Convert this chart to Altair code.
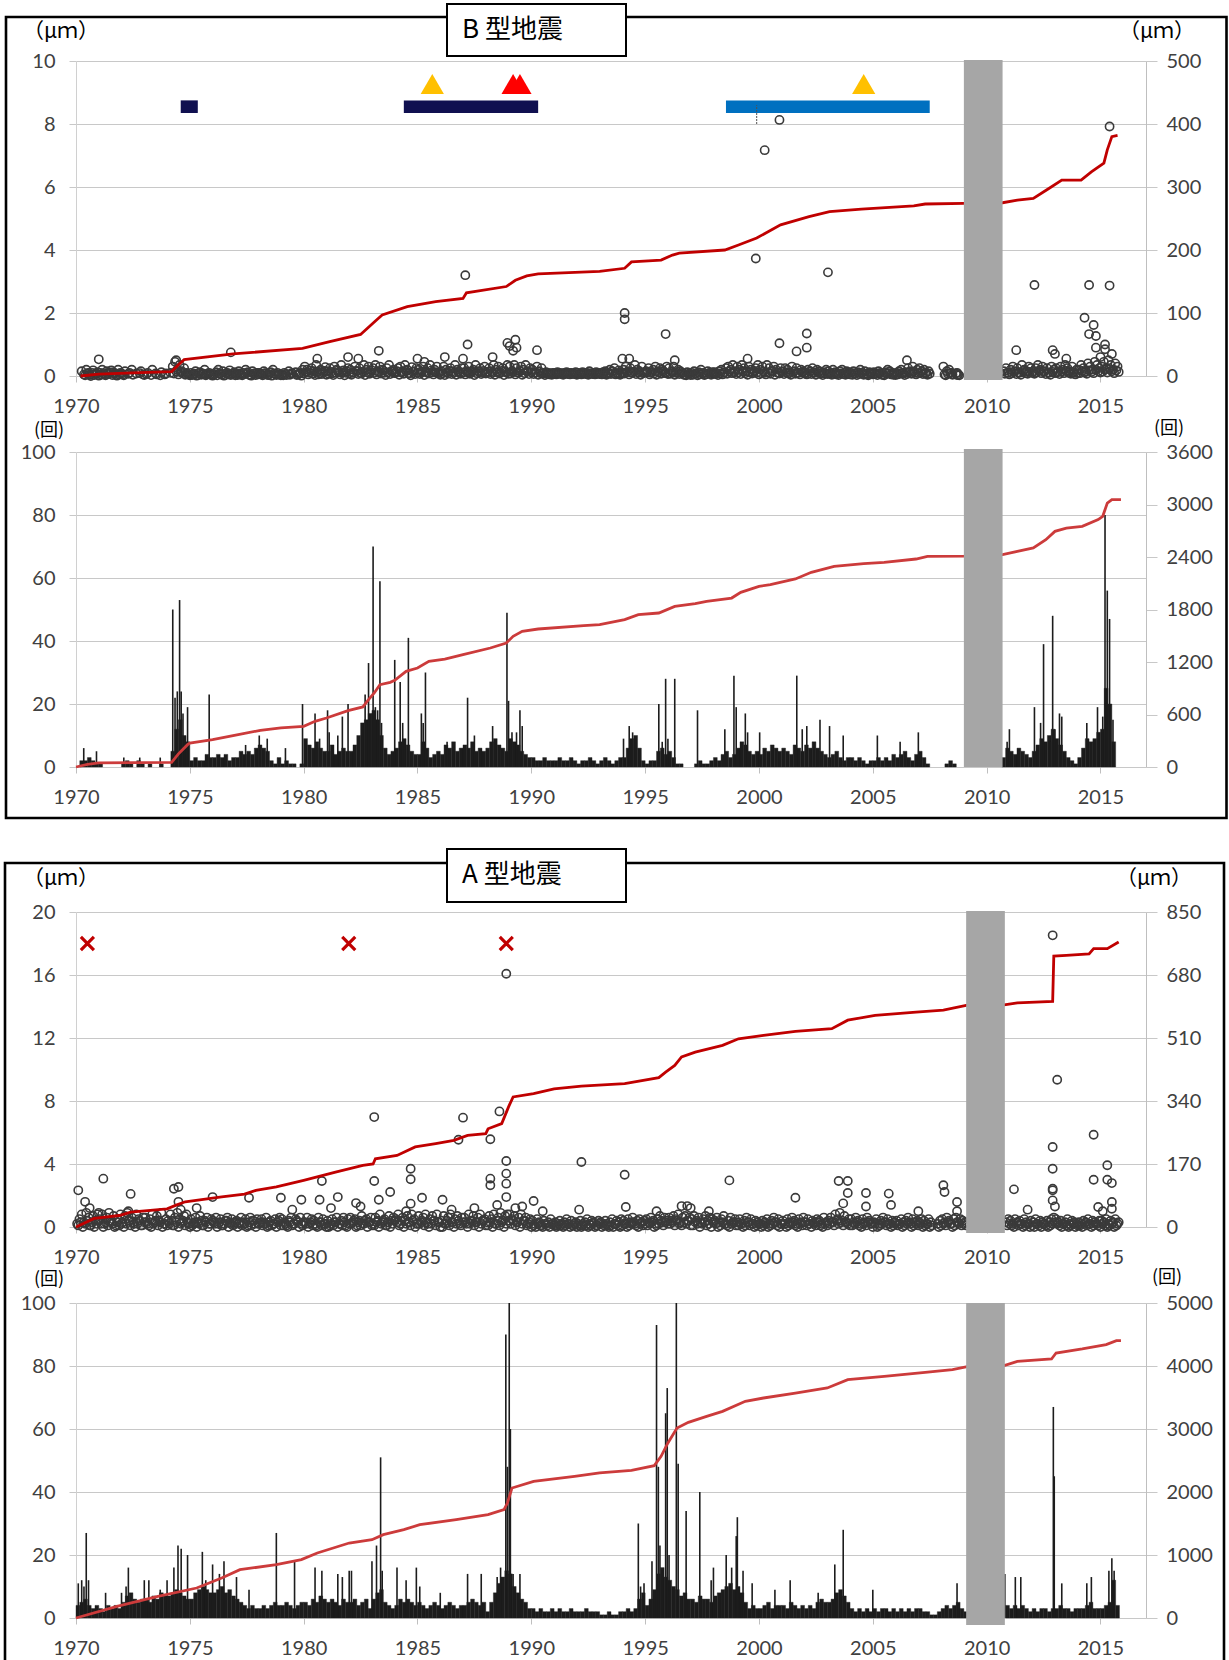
import altair as alt
import pandas as pd

Y0 = 1970

# ================= B-type earthquakes (upper box) =================
# scatter cloud near zero, 10 slots per year, values in 0.01 um ('.' = none)
B_CLOUD = [
    ". . 15 5 20 10 0 18 8 12",      # 1970
    "10 20 5 15 8 18 12 3 20 10",    # 1971
    "5 15 . 10 20 . 8 . 15 5",       # 1972
    ". 10 . 20 . 5 . 12 . 8",        # 1973
    ". 10 30 45 20 35 15 25 10 5",   # 1974
    "10 5 15 3 12 8 20 5 10 3",      # 1975
    "5 12 20 8 15 3 10 18 6 12",     # 1976
    "8 15 5 10 20 12 3 15 8 10",     # 1977
    "10 5 15 8 3 12 20 6 10 5",      # 1978
    "5 10 3 15 8 . 12 5 10 20",      # 1979
    "30 20 10 25 15 35 5 20 12 28",  # 1980
    "15 25 8 30 20 12 35 18 10 25",  # 1981
    "20 10 30 15 25 8 35 20 30 12",  # 1982
    "25 35 15 30 20 10 25 35 15 20", # 1983
    "10 25 30 15 35 20 8 28 15 25",  # 1984
    "20 10 30 15 25 35 12 20 30 10", # 1985
    "15 30 20 8 25 15 35 20 10 25",  # 1986
    "25 15 30 10 20 35 15 25 10 30", # 1987
    "10 25 15 35 20 30 10 25 15 35", # 1988
    "30 15 35 25 10 30 20 35 15 25", # 1989
    "20 10 30 15 25 10 12 10 8 10",  # 1990
    "10 12 10 8 10 12 10 10 8 12",   # 1991
    "10 8 12 10 10 15 8 10 12 10",   # 1992
    "10 12 15 10 20 15 25 10 18 12", # 1993
    "20 30 15 25 10 35 20 15 30 10", # 1994
    "15 25 10 20 30 15 25 20 10 30", # 1995
    "25 15 30 10 20 15 10 5 12 8",   # 1996
    "10 15 8 12 20 10 5 15 10 12",   # 1997
    "12 8 15 20 10 25 30 20 35 15",  # 1998
    "30 20 35 25 15 30 20 10 25 35", # 1999
    "20 30 10 35 25 15 30 20 10 25", # 2000
    "15 25 20 10 30 15 25 10 20 15", # 2001
    "10 20 15 25 10 20 15 8 12 20",  # 2002
    "15 10 20 12 8 15 20 10 15 12",  # 2003
    "10 15 8 12 20 10 15 5 12 10",   # 2004
    "12 8 15 10 5 12 20 15 10 8",    # 2005
    "10 15 20 8 12 25 15 30 10 20",  # 2006
    "25 15 20 10 15 . . . . .",      # 2007
    ". 5 15 20 10 . 8 5 . .",        # 2008
    ". . . . . . . . . .",           # 2009
    ". . . . . . . 15 25 10",        # 2010
    "20 30 15 25 10 35 20 15 30 25", # 2011
    "15 25 35 20 30 15 25 10 30 20", # 2012
    "25 15 30 20 35 25 15 30 10 20", # 2013
    "20 35 25 15 40 30 20 45 35 25", # 2014
    "30 45 25 50 35 20 40 30 . .",   # 2015
]
# second, lower layer of the same cloud (0.01 um)
B_CLOUD2 = [
    ". . . 2 8 4 10 3 6 1",          # 1970
    "4 9 2 6 11 3 7 1 5 8",          # 1971
    "2 . 7 . 4 . . 9 . 3",           # 1972
    "6 . 3 . 8 . 2 . 5 .",           # 1973
    ". . 8 15 5 12 9 4 7 2",         # 1974
    "3 7 1 9 4 6 2 8 5 1",           # 1975
    "6 2 8 4 1 9 5 3 7 2",           # 1976
    "3 8 2 6 9 4 1 7 3 5",           # 1977
    "7 2 9 4 6 1 8 3 5 2",           # 1978
    "2 6 . 4 9 . 3 7 1 8",           # 1979
    "12 5 18 8 3 14 9 6 16 4",       # 1980
    "7 13 3 10 17 5 12 2 15 8",      # 1981
    "4 11 16 6 9 14 3 12 7 18",      # 1982
    "10 5 13 8 17 3 11 6 14 9",      # 1983
    "15 4 11 7 16 9 2 13 6 10",      # 1984
    "6 14 3 11 8 17 5 12 9 4",       # 1985
    "9 3 12 16 6 10 4 14 7 11",      # 1986
    "5 12 7 15 3 9 13 6 16 8",       # 1987
    "14 6 10 4 12 8 16 3 11 7",      # 1988
    "8 13 5 11 16 4 9 14 6 12",      # 1989
    "6 11 4 9 7 3 6 5 4 6",          # 1990
    "5 7 6 4 8 6 5 7 6 4",           # 1991
    "6 5 7 6 4 8 6 5 7 6",           # 1992
    "5 7 4 8 6 9 5 7 4 8",           # 1993
    "8 12 5 10 14 6 11 4 9 13",      # 1994
    "11 5 13 8 4 12 7 15 9 6",       # 1995
    "7 10 4 13 6 9 4 2 6 3",         # 1996
    "4 7 2 5 8 3 6 9 4 7",           # 1997
    "6 3 8 5 12 7 14 9 11 6",        # 1998
    "12 6 15 9 4 13 8 16 10 5",      # 1999
    "9 14 5 12 7 16 4 11 8 13",      # 2000
    "6 11 8 4 13 7 10 5 12 8",       # 2001
    "5 9 6 12 4 10 7 3 8 6",         # 2002
    "7 4 9 5 3 8 6 4 7 5",           # 2003
    "4 8 3 6 9 4 7 2 6 5",           # 2004
    "6 3 8 4 2 7 9 5 4 3",           # 2005
    "5 8 10 3 6 12 7 14 5 9",        # 2006
    "10 6 8 4 7 . . . . .",          # 2007
    ". 2 7 9 4 . 3 2 . .",           # 2008
    ". . . . . . . . . .",           # 2009
    ". . . . . . . 7 10 5",          # 2010
    "9 14 6 11 4 16 9 7 13 10",      # 2011
    "7 12 16 9 14 6 11 4 13 9",      # 2012
    "11 6 14 9 16 10 7 13 5 9",      # 2013
    "9 16 11 7 18 13 9 20 15 11",    # 2014
    "14 20 11 22 15 9 18 13 . .",    # 2015
]
B_OUT_YR = [1971.0, 1976.8, 1980.6, 1981.95, 1983.3, 1985.0, 1985.3, 1986.2, 1987.1, 1987.2,
            1987.0, 1988.3, 1988.95, 1989.05, 1989.3, 1989.35, 1989.2, 1990.25, 1994.1, 1994.1,
            1995.9, 1999.86, 2000.25, 2000.9, 2003.03, 2000.9, 2001.65, 2002.1, 2002.1, 2012.1,
            2014.5, 2015.4, 2015.4, 2014.3, 2014.7, 2014.5, 2014.8, 2015.2, 2015.2, 2011.3,
            2012.9, 2014.8, 2008.1, 2008.7, 1994.0, 1994.3, 1996.3, 1999.5, 2006.5, 2013.0,
            2013.5, 2015.0, 2015.5, 1982.4, 1974.4]
B_OUT_V = [0.53, 0.75, 0.55, 0.6, 0.8, 0.55, 0.45, 0.6, 3.2, 1.0,
           0.55, 0.6, 1.05, 0.95, 1.15, 0.9, 0.8, 0.82, 2.0, 1.8,
           1.33, 3.73, 7.17, 8.13, 3.29, 1.04, 0.78, 1.35, 0.9, 2.89,
           2.89, 2.87, 7.92, 1.85, 1.62, 1.33, 1.27, 1.0, 0.85, 0.82,
           0.82, 0.9, 0.3, 0.1, 0.55, 0.55, 0.5, 0.55, 0.5, 0.7,
           0.55, 0.6, 0.7, 0.55, 0.5]
B_LINE_YR = [1970.2, 1971.0, 1972.5, 1974.2, 1974.5, 1974.75, 1976.9, 1979.95, 1981.1, 1982.5,
             1983.2, 1983.45, 1984.55, 1985.8, 1987.0, 1987.15, 1988.9, 1989.3, 1989.8, 1990.3,
             1993.0, 1994.1, 1994.4, 1995.7, 1996.2, 1996.5, 1998.5, 1999.1, 1999.9, 2000.4,
             2000.95, 2002.2, 2003.1, 2004.5, 2006.8, 2007.3, 2009.0, 2010.7, 2011.35, 2012.05,
             2012.75, 2013.3, 2014.15, 2014.6, 2015.15, 2015.3, 2015.5, 2015.75]
B_LINE_V = [0, 3, 5, 7, 18, 26, 35, 44, 54, 66,
            89, 97, 110, 118, 123, 132, 142, 152, 159, 162,
            166, 171, 181, 184, 192, 195, 200, 208, 219, 229,
            240, 253, 261, 265, 270, 273, 274, 275, 279, 282,
            298, 311, 311, 324, 338, 359, 380, 382]

# B counts: 6 bins per year (count per bin)
B_BINS = [
    "0 2 2 3 2 1", "1 0 0 0 0 0", "1 2 1 0 2 1", "0 1 0 0 1 0", "0 5 12 15 10 8",   # 1970-74
    "2 3 2 2 4 3", "3 4 3 4 2 3", "3 5 4 5 4 6", "7 6 5 2 1 3", "1 2 1 1 0 1",       # 1975-79
    "9 7 6 8 6 5", "5 7 4 5 6 5", "5 7 10 14 15 17", "18 15 10 6 4 5", "6 8 9 7 5 4",  # 1980-84
    "4 8 6 3 4 5", "4 7 6 8 5 6", "7 6 8 5 6 5", "6 8 9 7 6 5", "9 8 7 5 4 3",       # 1985-89
    "3 2 2 3 2 2", "2 3 2 2 3 2", "1 2 2 3 2 1", "2 3 2 1 2 3", "3 6 9 10 6 2",      # 1990-94
    "1 2 2 5 6 4", "5 3 1 1 0 0", "0 1 2 1 1 2", "3 2 4 5 3 4", "6 8 7 5 4 5",       # 1995-99
    "4 6 5 7 6 5", "6 5 4 7 6 5", "7 6 8 6 5 4", "3 4 5 3 2 3", "3 2 3 2 1 2",       # 2000-04
    "2 3 2 3 2 4", "3 4 5 3 2 4", "5 3 1 0 0 0", "0 1 2 1 0 0", "0 0 0 0 0 0",       # 2005-09
    "0 0 0 0 3 6", "5 4 6 5 4 3", "5 7 9 8 10 12", "9 7 5 3 2 1", "3 6 9 8 9 11",    # 2010-14
    "12 25 20 8 0 0",                                                                # 2015
]
B_SPIKE_YR = [1970.34, 1970.9, 1972.1, 1972.8, 1973.7, 1974.25, 1974.35, 1974.45, 1974.55, 1974.62,
              1974.7, 1974.9, 1975.85, 1977.45, 1978.05, 1978.4, 1979.2, 1979.95, 1980.5, 1980.7,
              1981.05, 1981.12, 1981.5, 1981.7, 1981.95, 1982.7, 1982.85, 1983.05, 1983.15, 1983.25,
              1983.35, 1983.42, 1984.0, 1984.24, 1984.35, 1984.6, 1985.17, 1985.25, 1985.35, 1986.3,
              1987.2, 1987.5, 1988.3, 1988.93, 1989.0, 1989.15, 1989.35, 1989.5, 1989.6, 1994.05,
              1994.3, 1994.45, 1995.6, 1995.75, 1995.9, 1996.0, 1996.3, 1997.3, 1998.5, 1998.9,
              1999.0, 1999.4, 1999.5, 2000.03, 2001.66, 2001.9, 2002.1, 2002.68, 2003.1, 2003.7,
              2005.2, 2006.2, 2007.0, 2010.9, 2011.0, 2012.1, 2012.37, 2012.5, 2012.8, 2012.9,
              2013.0, 2013.2, 2013.3, 2014.4, 2014.87, 2015.1, 2015.2, 2015.3, 2015.4, 2015.55]
B_SPIKE_V = [6, 5, 3, 3, 3, 50, 22, 24, 53, 24,
             17, 19, 23, 7, 10, 9, 6, 20, 17, 9,
             18, 11, 10, 16, 20, 23, 33, 70, 19, 18,
             59, 14, 34, 27, 14, 41, 17, 14, 30, 8,
             22, 10, 13, 49, 21, 11, 11, 18, 13, 9,
             13, 11, 20, 8, 28, 9, 28, 18, 12, 29,
             19, 17, 11, 11, 29, 12, 13, 15, 13, 10,
             10, 8, 11, 8, 12, 19, 14, 39, 8, 48,
             12, 17, 16, 14, 19, 16, 80, 56, 47, 15]
B2_LINE_YR = [1970.0, 1970.5, 1971.0, 1974.2, 1974.5, 1974.9, 1975.0, 1976.0, 1976.9, 1978.1,
              1979.0, 1980.0, 1980.5, 1981.0, 1981.95, 1982.6, 1982.85, 1983.1, 1983.35, 1983.8,
              1984.0, 1984.5, 1985.0, 1985.5, 1986.2, 1987.0, 1988.2, 1988.9, 1989.2, 1989.6,
              1990.3, 1992.3, 1993.0, 1994.1, 1994.7, 1995.6, 1996.3, 1997.2, 1997.7, 1998.8,
              1999.2, 2000.0, 2000.5, 2001.6, 2002.3, 2003.3, 2004.6, 2005.5, 2006.9, 2007.4,
              2009.0, 2010.7, 2011.35, 2012.05, 2012.6, 2013.0, 2013.5, 2014.2, 2014.9, 2015.1,
              2015.3, 2015.5, 2015.9]
B2_LINE_V = [0, 30, 46, 53, 150, 255, 274, 312, 358, 419,
             446, 465, 522, 560, 644, 686, 770, 846, 941, 968,
             990, 1093, 1131, 1208, 1234, 1284, 1360, 1417, 1493, 1550,
             1577, 1615, 1627, 1684, 1741, 1760, 1836, 1867, 1893, 1931,
             1996, 2065, 2084, 2149, 2225, 2293, 2324, 2339, 2377, 2408,
             2410, 2427, 2465, 2503, 2598, 2693, 2731, 2750, 2827, 2865,
             3017, 3055, 3055]

# activity bars / eruption triangles in B panel
B_BAR_X0 = [1974.6, 1984.4, 1998.55]
B_BAR_X1 = [1975.35, 1990.3, 2007.5]
B_BAR_COL = ["#101050", "#101050", "#0070C0"]
B_TRI_YR = [1985.65, 2004.6, 1989.2, 1989.5]
B_TRI_COL = ["#FFC000", "#FFC000", "#FF0000", "#FF0000"]

# ================= A-type earthquakes (lower box) =================
# scatter cloud, values in 0.1 um
A_CLOUD = [
    "2 5 8 3 9 6 1 7 4 8", "5 8 2 6 9 3 7 1 5 8", "3 7 9 4 6 2 8 5 1 6", "6 2 5 8 3 7 4 9 2 5",
    "4 8 1 6 9 5 3 7 8 2", "5 2 6 3 7 1 4 6 2 5", "3 6 2 5 1 4 6 3 5 2", "4 2 6 3 5 1 6 4 2 5",
    "2 5 3 6 1 4 2 5 3 6", "5 3 1 4 6 2 5 3 6 1", "3 6 2 5 4 1 6 3 5 2", "4 1 5 3 6 2 4 6 1 5",
    "6 3 5 1 4 7 2 5 3 6", "2 6 4 8 3 5 1 7 4 6", "5 8 2 6 4 7 3 8 5 2", "7 3 6 8 2 5 7 4 8 3",
    "4 7 2 6 8 3 5 7 2 6", "6 2 8 4 7 3 6 8 4 5", "3 7 5 8 2 6 9 4 7 8", "8 5 7 3 6 8 4 6 2 5",
    "4 2 5 3 1 4 2 3 5 2", "3 1 4 2 3 5 2 4 1 3", "2 4 1 3 5 2 4 3 1 4", "3 2 4 1 3 5 2 4 3 5",
    "4 2 5 3 6 2 4 5 3 4", "5 3 6 4 2 5 7 3 6 4", "6 4 7 5 8 3 6 7 4 6", "5 7 4 6 3 5 7 4 6 5",
    "4 6 3 5 7 2 4 6 3 5", "3 5 2 4 6 3 5 2 4 3", "2 4 3 5 2 4 6 3 5 2", "4 2 5 3 6 4 2 5 3 6",
    "3 5 2 4 3 5 4 2 6 3", "4 6 3 8 5 9 4 7 3 5", "5 3 6 4 2 5 3 6 4 2", "3 5 2 4 6 3 5 2 4 3",
    "4 2 5 3 4 6 2 5 3 4", "3 5 4 2 5 3 . . 2 4", "5 3 6 4 2 5 6 3 5 4", "3 . . . . . . . . .",
    ". . . . . . . . 3 5", "4 2 5 3 4 2 5 3 2 4", "3 5 2 4 3 2 4 3 5 6", "5 3 4 2 3 5 2 4 3 2",
    "3 2 4 3 5 2 4 3 2 4", "4 3 5 2 4 3 5 2 . .",
]
# second, lower layer of the A cloud (0.1 um)
A_CLOUD2 = [
    "1 3 0 2 4 1 3 0 2 4", "2 0 3 1 4 2 0 3 1 2", "0 2 4 1 3 0 2 4 1 3", "3 1 0 2 4 1 3 0 2 1",
    "2 4 1 3 0 2 4 1 3 0", "1 3 0 2 4 1 3 0 2 4", "2 0 3 1 2 4 0 2 1 3", "0 3 1 2 0 3 1 4 0 2",
    "3 1 2 0 3 1 2 0 4 1", "1 2 0 3 1 2 4 0 2 3", "2 0 3 1 2 0 3 1 2 0", "0 2 1 3 0 2 1 3 0 2",
    "2 4 0 3 1 2 4 0 3 1", "1 3 0 2 4 1 3 0 2 4", "3 1 4 0 2 3 1 4 0 2", "2 4 1 3 0 2 4 1 3 0",
    "0 2 4 1 3 0 2 4 1 3", "3 0 2 4 1 3 0 2 4 1", "1 3 0 2 4 1 3 0 2 4", "2 4 1 3 0 2 4 1 3 0",
    "1 0 2 1 0 2 1 0 2 1", "0 2 1 0 1 2 0 1 2 0", "1 0 2 1 0 1 2 0 1 2", "0 1 2 0 1 0 2 1 0 1",
    "2 0 1 2 3 1 0 2 1 2", "1 2 3 0 1 2 4 1 3 2", "2 3 1 4 2 1 3 2 4 1", "1 3 2 0 2 3 1 2 0 3",
    "2 0 1 3 2 1 0 2 3 1", "1 2 0 1 3 1 2 0 1 2", "0 1 2 0 1 2 3 1 0 2", "2 0 1 2 3 1 0 2 1 3",
    "1 2 0 2 1 3 1 0 2 1", "2 3 1 4 2 3 1 3 2 1", "1 2 3 1 0 2 1 3 2 0", "2 0 1 2 3 1 2 0 1 2",
    "1 2 0 1 2 3 0 1 2 1", "2 0 1 2 0 1 . . 0 1", "2 1 3 2 0 1 3 2 1 2", "1 . . . . . . . . .",
    ". . . . . . . . 1 2", "1 0 2 1 2 0 1 2 0 1", "0 2 1 0 2 1 0 1 2 3", "2 1 0 2 1 0 1 2 0 1",
    "1 0 2 1 2 0 1 2 1 0", "2 1 0 1 2 0 1 3 . .",
]
A_OUT_YR = [1970.1, 1970.4, 1971.2, 1972.4, 1974.3, 1974.5, 1974.5, 1976.0, 1977.6, 1979.0,
            1979.9, 1980.7, 1980.8, 1981.5, 1982.3, 1983.3, 1983.1, 1983.1, 1983.8, 1984.7,
            1984.7, 1984.7, 1985.2, 1986.1, 1986.8, 1987.0, 1988.2, 1988.2, 1988.2, 1988.6,
            1988.9, 1988.9, 1988.9, 1988.9, 1988.9, 1990.1, 1992.2, 1992.1, 1994.1, 1994.15,
            1996.6, 1996.85, 1998.7, 2001.6, 2003.5, 2003.9, 2003.9, 2004.7, 2005.7, 2008.1,
            2008.15, 2008.7, 2011.2, 2011.8, 2012.9, 2012.9, 2012.9, 2012.9, 2012.9, 2012.9,
            2013.1, 2014.7, 2014.7, 2014.9, 2015.3, 2015.3, 2015.5, 2015.5, 2015.5, 1970.6,
            1971.0, 1972.3, 1974.6, 1975.3, 1979.5, 1981.2, 1982.5, 1984.5, 1986.5, 1987.5,
            1988.5, 1989.3, 1989.6, 1990.5, 1995.5, 1997.0, 1997.8, 2003.7, 2004.7, 2005.8,
            2007.0, 2008.7, 2013.0, 2015.1]
A_OUT_V = [2.33, 1.6, 3.07, 2.1, 2.43, 2.54, 1.6, 1.9, 1.86, 1.86,
           1.73, 1.73, 2.92, 1.9, 1.52, 1.73, 6.98, 2.92, 2.22, 3.7,
           3.03, 1.48, 1.86, 1.73, 5.54, 6.94, 5.57, 3.07, 2.65, 7.34,
           16.08, 4.19, 3.39, 2.75, 1.9, 1.65, 4.13, 1.1, 3.32, 1.27,
           1.33, 1.33, 2.96, 1.86, 2.92, 2.92, 2.16, 2.16, 2.12, 2.65,
           2.22, 1.59, 2.39, 1.1, 18.52, 5.08, 3.7, 2.43, 2.33, 1.69,
           9.35, 5.86, 3.0, 1.27, 3.92, 3.0, 2.79, 1.59, 1.16, 1.2,
           0.9, 1.0, 1.1, 1.2, 1.1, 1.2, 1.3, 1.0, 1.1, 1.2,
           1.4, 1.2, 1.3, 1.0, 1.0, 1.2, 1.0, 1.5, 1.3, 1.4,
           1.0, 1.0, 1.3, 1.0]
A_LINE_YR = [1970.0, 1970.8, 1971.9, 1972.4, 1974.0, 1974.4, 1974.8, 1976.4, 1977.4, 1977.9,
             1978.8, 1980.0, 1981.4, 1982.6, 1983.05, 1983.15, 1984.1, 1984.9, 1985.8, 1986.6,
             1987.2, 1988.0, 1988.1, 1988.7, 1989.0, 1989.2, 1990.1, 1991.0, 1992.2, 1994.1,
             1995.6, 1995.9, 1996.3, 1996.6, 1997.2, 1998.4, 1999.1, 2000.2, 2001.6, 2003.2,
             2003.9, 2005.1, 2006.9, 2008.1, 2009.1, 2010.7, 2011.35, 2012.9, 2012.95, 2013.5,
             2014.5, 2014.7, 2015.3, 2015.8]
A_LINE_V = [0, 23, 31, 40, 49, 59, 68, 81, 89, 99,
            108, 126, 148, 166, 170, 184, 193, 216, 225, 234,
            247, 252, 265, 279, 324, 351, 360, 373, 380, 387,
            403, 418, 436, 459, 472, 490, 508, 517, 528, 535,
            558, 571, 580, 585, 598, 599, 605, 609, 731, 733,
            737, 751, 751, 769]
A_BINS = [
    "4 5 6 4 3 4", "3 2 4 3 4 3", "5 7 8 6 5 6", "6 5 7 6 8 7", "7 8 9 8 7 6",          # 1970-74
    "6 8 9 10 9 8", "8 9 10 8 9 7", "6 5 4 3 4 3", "3 4 3 4 5 4", "4 5 4 3 4 5",       # 1975-79
    "5 4 6 5 7 6", "5 6 5 4 6 5", "5 6 4 5 6 3", "6 8 9 5 4 3", "4 6 5 6 5 4",         # 1980-84
    "5 4 3 4 5 4", "3 4 5 4 3 4", "4 5 6 5 4 5", "2 5 8 11 13 15", "14 10 8 6 5 3",    # 1985-89
    "3 2 3 2 2 3", "2 3 2 2 3 2", "2 2 3 2 2 2", "1 1 2 1 1 2", "2 3 2 3 6 8",         # 1990-94
    "4 6 9 14 16 13", "12 10 9 7 8 6", "6 5 7 6 6 5", "7 8 9 10 11 9", "10 8 5 3 4 3", # 1995-99
    "3 4 5 3 4 4", "4 3 5 4 3 4", "3 4 3 5 6 5", "5 6 8 9 7 5", "3 2 3 2 3 2",         # 2000-04
    "3 2 3 3 2 3", "2 3 2 3 2 3", "3 2 2 1 1 2", "3 4 3 4 5 3", "2 0 0 0 0 0",         # 2005-09
    "0 0 0 0 0 4", "3 4 3 4 3 2", "3 2 3 3 2 3", "3 4 3 3 2 3", "3 3 4 5 3 3",         # 2010-14
    "3 4 5 12 4 0",                                                                  # 2015
]
A_SPIKE_YR = [1970.1, 1970.25, 1970.35, 1970.45, 1970.55, 1971.3, 1972.0, 1972.2, 1972.3, 1973.0,
              1973.2, 1973.7, 1974.0, 1974.3, 1974.48, 1974.62, 1974.9, 1975.55, 1975.7, 1976.0,
              1976.3, 1976.5, 1977.05, 1977.6, 1978.8, 1979.6, 1980.5, 1980.8, 1981.5, 1981.7,
              1982.0, 1982.1, 1983.0, 1983.2, 1983.38, 1983.45, 1984.1, 1984.5, 1984.95, 1985.1,
              1986.0, 1987.2, 1987.8, 1988.5, 1988.65, 1988.88, 1988.95, 1989.03, 1989.08, 1989.2,
              1989.5, 1994.7, 1994.8, 1994.95, 1995.3, 1995.5, 1995.58, 1995.65, 1995.9, 1995.97,
              1996.05, 1996.37, 1996.45, 1996.8, 1997.4, 1997.9, 1998.0, 1998.56, 1998.8, 1999.0,
              1999.05, 1999.3, 1999.7, 2000.7, 2001.37, 2002.6, 2003.33, 2003.7, 2005.0, 2008.7,
              2010.8, 2011.26, 2011.5, 2012.93, 2012.97, 2013.3, 2014.4, 2014.6, 2015.37, 2015.5,
              2015.6]
A_SPIKE_V = [11, 12, 10, 27, 12, 8, 8, 10, 16, 12,
             12, 9, 12, 16, 23, 22, 20, 21, 12, 17,
             14, 18, 13, 9, 27, 18, 16, 15, 14, 13,
             15, 15, 18, 23, 51, 15, 16, 12, 16, 10,
             8, 14, 14, 13, 16, 90, 48, 100, 60, 14,
             14, 30, 10, 11, 18, 93, 48, 23, 65, 73,
             20, 100, 49, 34, 40, 12, 16, 20, 16, 26,
             32, 15, 11, 9, 12, 8, 17, 28, 9, 11,
             14, 13, 13, 67, 45, 11, 11, 13, 15, 19,
             15]
A2_LINE_YR = [1970.0, 1971.8, 1973.6, 1975.3, 1976.4, 1977.2, 1978.8, 1979.9, 1980.6, 1982.0,
              1983.0, 1983.5, 1984.4, 1985.1, 1986.7, 1988.1, 1988.8, 1988.95, 1989.15, 1990.1,
              1991.9, 1993.0, 1994.4, 1995.4, 1995.7, 1996.0, 1996.4, 1996.9, 1997.7, 1998.4,
              1999.4, 2000.2, 2001.6, 2003.0, 2003.9, 2005.5, 2007.3, 2008.5, 2009.2, 2010.7,
              2011.35, 2012.85, 2013.05, 2014.2, 2015.25, 2015.7, 2015.9]
A2_LINE_V = [0, 185, 344, 476, 635, 767, 847, 926, 1032, 1190,
             1243, 1323, 1402, 1481, 1561, 1640, 1720, 1825, 2063, 2169,
             2249, 2302, 2344, 2418, 2566, 2778, 3016, 3106, 3201, 3280,
             3439, 3492, 3571, 3651, 3783, 3836, 3899, 3942, 3995, 3998,
             4074, 4111, 4206, 4270, 4339, 4402, 4402]
A_X_YR = [1970.5, 1981.98, 1988.9]

# gap in observation (grey band)
B_GAP = [2009.0, 2010.7]
A_GAP = [2009.1, 2010.8]

X_TICKS = [1970, 1975, 1980, 1985, 1990, 1995, 2000, 2005, 2010, 2015]

# ---------------- helpers ----------------
W, H = 1070, 1599
XDOM = [1970, 2017]
R_BS = [315, 0]
R_BB = [706, 391]
R_AS = [1166, 851]
R_AB = [1557, 1242]
FONT = "Lato"
CJK = "Noto Sans CJK JP"


def cloud_df(rows, div, shift=0.0):
    recs = []
    for i, row in enumerate(rows):
        toks = row.split()
        n = len(toks)
        for j, t in enumerate(toks):
            if t != ".":
                recs.append({"yr": Y0 + i + (j + 0.5 + shift) / n, "v": int(t) / div})
    return pd.DataFrame(recs)


def bins_df(rows):
    recs = []
    for i, row in enumerate(rows):
        toks = row.split()
        n = len(toks)
        for j, t in enumerate(toks):
            v = int(t)
            if v > 0:
                recs.append({"x0": Y0 + i + j / n, "x1": Y0 + i + (j + 1) / n, "v": v, "b": 0})
    return pd.DataFrame(recs)


def xs(field, axis=None):
    return alt.X(field, type="quantitative",
                 scale=alt.Scale(domain=XDOM, nice=False, zero=False), axis=axis)


def x2(field):
    return alt.X2(field)


def ys(field, dom, rng, axis=None):
    return alt.Y(field, type="quantitative",
                 scale=alt.Scale(domain=dom, range=rng, nice=False, zero=False), axis=axis)


def xaxis(offset):
    return alt.Axis(orient="bottom", offset=offset, values=X_TICKS, format="d", grid=False,
                    domain=False, tickSize=6, tickColor="#bfbfbf", labelPadding=14,
                    labelFlush=False, labelFont=FONT, labelFontSize=20, labelColor="#404040",
                    title=None)


def laxis(vals):
    return alt.Axis(orient="left", values=vals, format="d", grid=True, gridColor="#c8c8c8",
                    gridWidth=1.2, domain=True, domainColor="#d0d0d0", tickSize=7,
                    tickColor="#c8c8c8", labelPadding=14, labelFont=FONT, labelFontSize=20,
                    labelColor="#404040", title=None)


def raxis(vals):
    return alt.Axis(orient="right", values=vals, format="d", grid=False, domain=True,
                    domainColor="#bfbfbf", tickSize=11, tickColor="#c8c8c8", labelPadding=9,
                    labelFont=FONT, labelFontSize=20, labelColor="#404040", title=None)


def scatter_panel(cloud, cloud2, oyr, ov, div, ldom, lticks, rng, xoff):
    df = pd.concat([cloud_df(cloud2, div, 0.5), cloud_df(cloud, div),
                    pd.DataFrame({"yr": oyr, "v": ov})], ignore_index=True)
    return alt.Chart(df).mark_point(shape="circle", filled=False, size=68, strokeWidth=1.6,
                                    color="#3a3a3a", opacity=1).encode(
        x=xs("yr", xaxis(xoff)), y=ys("v", ldom, rng, laxis(lticks)))


def line_layer(yrs, vals, rdom, rticks, rng, color, width):
    df = pd.DataFrame({"yr": yrs, "v": vals})
    return alt.Chart(df).mark_line(color=color, strokeWidth=width).encode(
        x=xs("yr"), y=ys("v", rdom, rng, raxis(rticks)))


def bar_layers(bins, syr, sv, rng, xoff):
    bdf = bins_df(bins)
    base = alt.Chart(bdf).mark_rect(color="#1c1c1c", stroke="#1c1c1c", strokeWidth=0.4).encode(
        x=xs("x0", xaxis(xoff)), x2=x2("x1"),
        y=ys("v", [0, 100], rng, laxis([0, 20, 40, 60, 80, 100])), y2=alt.Y2("b"))
    sdf = pd.DataFrame({"yr": syr, "v": sv, "b": [0] * len(sv)})
    spikes = alt.Chart(sdf).mark_rule(color="#1c1c1c", strokeWidth=1.6).encode(
        x=xs("yr"), y=ys("v", [0, 100], rng), y2=alt.Y2("b"))
    return [base, spikes]


def band(gap, top, bottom):
    df = pd.DataFrame({"a": [gap[0]], "b": [gap[1]]})
    return alt.Chart(df).mark_rect(color="#a6a6a6").encode(
        x=xs("a"), x2=x2("b"), y=alt.value(top), y2=alt.value(bottom))


ONE = pd.DataFrame({"d": [0]})


def rect_px(xa, xb, ya, yb, **kw):
    return alt.Chart(ONE).mark_rect(**kw).encode(
        x=alt.value(xa), x2=alt.value(xb), y=alt.value(ya), y2=alt.value(yb))


def text_px(txt, x, y, size, align="center", font=CJK):
    return alt.Chart(ONE).mark_text(text=txt, font=font, fontSize=size, align=align,
                                    baseline="middle", color="#000000").encode(
        x=alt.value(x), y=alt.value(y))


layers = []

# frames (drawn first)
layers.append(rect_px(-70, 1150.5, -44, 757, fillOpacity=0, stroke="#000000", strokeWidth=2.6))
layers.append(rect_px(-71, 1148, 802, 1640, fillOpacity=0, stroke="#000000", strokeWidth=2.6))

# ---- B scatter panel ----
layers.append(scatter_panel(B_CLOUD, B_CLOUD2, B_OUT_YR, B_OUT_V, 100, [0, 10],
                            [0, 2, 4, 6, 8, 10], R_BS, 315 - H))
layers.append(line_layer(B_LINE_YR, B_LINE_V, [0, 500], [0, 100, 200, 300, 400, 500], R_BS, "#C00000", 2.8))
bar_df = pd.DataFrame({"x0": B_BAR_X0, "x1": B_BAR_X1, "c": B_BAR_COL, "lo": [8.35] * 3, "hi": [8.75] * 3})
layers.append(alt.Chart(bar_df).mark_rect().encode(
    x=xs("x0"), x2=x2("x1"), y=ys("lo", [0, 10], R_BS), y2=alt.Y2("hi"),
    color=alt.Color("c", type="nominal", scale=None)))
tri_df = pd.DataFrame({"yr": B_TRI_YR, "v": [9.27] * 4, "c": B_TRI_COL})
layers.append(alt.Chart(tri_df).mark_point(shape="triangle-up", filled=True, size=540, opacity=1).encode(
    x=xs("yr"), y=ys("v", [0, 10], R_BS), color=alt.Color("c", type="nominal", scale=None)))
tick_df = pd.DataFrame({"yr": [1999.9], "lo": [8.0], "hi": [8.6]})
layers.append(alt.Chart(tick_df).mark_rule(color="#505050", strokeWidth=1, strokeDash=[2, 1]).encode(
    x=xs("yr"), y=ys("lo", [0, 10], R_BS), y2=alt.Y2("hi")))
layers.append(band(B_GAP, -1, 319))

# ---- B count panel ----
layers.extend(bar_layers(B_BINS, B_SPIKE_YR, B_SPIKE_V, R_BB, 706 - H))
layers.append(line_layer(B2_LINE_YR, B2_LINE_V, [0, 3600], [0, 600, 1200, 1800, 2400, 3000, 3600],
                         R_BB, "#cc3b3b", 2.8))
layers.append(band(B_GAP, 388, 706))

# ---- A scatter panel ----
layers.append(scatter_panel(A_CLOUD, A_CLOUD2, A_OUT_YR, A_OUT_V, 10, [0, 20],
                            [0, 4, 8, 12, 16, 20], R_AS, 1166 - H))
layers.append(line_layer(A_LINE_YR, A_LINE_V, [0, 850], [0, 170, 340, 510, 680, 850], R_AS, "#C00000", 2.8))
x_df = pd.DataFrame({"yr": A_X_YR, "v": [18.0] * 3})
layers.append(alt.Chart(x_df).mark_point(shape="M-1,-1L1,1M-1,1L1,-1", filled=False, size=170,
                                         strokeWidth=3.2, color="#C00000", opacity=1).encode(
    x=xs("yr"), y=ys("v", [0, 20], R_AS)))
layers.append(band(A_GAP, 850, 1172))

# ---- A count panel ----
layers.extend(bar_layers(A_BINS, A_SPIKE_YR, A_SPIKE_V, R_AB, 1557 - H))
layers.append(line_layer(A2_LINE_YR, A2_LINE_V, [0, 5000], [0, 1000, 2000, 3000, 4000, 5000],
                         R_AB, "#cc3b3b", 2.8))
layers.append(band(A_GAP, 1242, 1564))

# ---- title boxes and unit labels ----
layers.append(rect_px(371, 550, -57, -5, fill="#ffffff", stroke="#000000", strokeWidth=2))
layers.append(text_px("B 型地震", 386, -31, 26, align="left"))
layers.append(rect_px(371, 550, 788, 841, fill="#ffffff", stroke="#000000", strokeWidth=2))
layers.append(text_px("A 型地震", 386, 814, 26, align="left"))
layers.append(text_px("（μｍ）", -15, -29, 21))
layers.append(text_px("（μｍ）", 1081, -29, 21))
layers.append(text_px("(回)", -27, 370, 18))
layers.append(text_px("(回)", 1093, 368, 18))
layers.append(text_px("（μｍ）", -15, 818, 21))
layers.append(text_px("（μｍ）", 1078, 818, 21))
layers.append(text_px("(回)", -27, 1219, 18))
layers.append(text_px("(回)", 1091, 1217, 18))

chart = alt.layer(*layers).resolve_scale(x="independent", y="independent").properties(
    width=W, height=H,
    autosize=alt.AutoSizeParams(type="none"),
    padding={"left": 76, "top": 61, "right": 83, "bottom": 0},
    background="#ffffff",
).configure_view(stroke=None)

chart.save("out.html", embed_options={"renderer": "svg", "actions": False})
